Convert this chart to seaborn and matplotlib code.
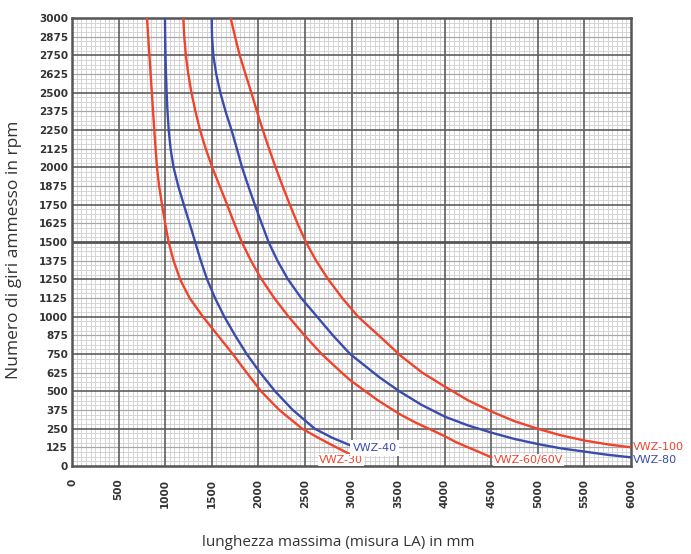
import numpy as np
import pandas as pd
import matplotlib
matplotlib.use("Agg")
import matplotlib.pyplot as plt
import seaborn as sns

# Maximum length (mm) vs permitted speed (rpm) for each shaft size
vwz30_len = [805, 818, 831, 844, 857, 870, 883, 897, 912, 935, 966, 1000, 1037, 1090,
             1160, 1262, 1405, 1565, 1725, 1875, 2030, 2225, 2470, 2640, 2790, 2980]
vwz30_rpm = [3000, 2875, 2750, 2625, 2500, 2375, 2250, 2125, 2000, 1875, 1750, 1625, 1500, 1375,
             1250, 1125, 1000, 875, 750, 625, 500, 375, 250, 190, 140, 80]

vwz40_len = [998, 1000, 1004, 1009, 1016, 1025, 1038, 1058, 1090, 1140, 1200, 1262, 1322, 1382,
             1450, 1535, 1635, 1750, 1875, 2020, 2180, 2370, 2605, 2790, 3000]
vwz40_rpm = [3000, 2875, 2750, 2625, 2500, 2375, 2250, 2125, 2000, 1875, 1750, 1625, 1500, 1375,
             1250, 1125, 1000, 875, 750, 625, 500, 375, 250, 190, 135]

vwz60_len = [1195, 1205, 1222, 1248, 1282, 1325, 1374, 1435, 1505, 1585, 1665, 1742, 1822, 1920,
             2035, 2170, 2325, 2495, 2680, 2895, 2983, 3150, 3290, 3520, 3690, 3830, 4000,
             4120, 4236, 4365, 4500]
vwz60_rpm = [3000, 2875, 2750, 2625, 2500, 2375, 2250, 2125, 2000, 1875, 1750, 1625, 1500, 1375,
             1250, 1125, 1000, 875, 750, 625, 576, 500, 437, 346, 290, 250, 200,
             160, 129, 95, 58]

vwz80_len = [1499, 1503, 1517, 1548, 1592, 1648, 1712, 1770, 1825, 1892, 1962, 2035, 2110, 2205,
             2318, 2460, 2630, 2800, 2985, 3237, 3306, 3520, 3750, 4003, 4250, 4504, 4750,
             5016, 5250, 5506, 5750, 6000]
vwz80_rpm = [3000, 2875, 2750, 2625, 2500, 2375, 2250, 2125, 2000, 1875, 1750, 1625, 1500, 1375,
             1250, 1125, 1000, 875, 750, 625, 591, 498, 410, 330, 272, 223, 181,
             145, 118, 96, 75, 58]

vwz100_len = [1703, 1750, 1800, 1862, 1925, 1985, 2048, 2115, 2185, 2260, 2338, 2420, 2510, 2620,
              2750, 2900, 3070, 3300, 3530, 3760, 4003, 4250, 4504, 4750, 5016, 5250, 5506,
              5750, 6000]
vwz100_rpm = [3000, 2875, 2750, 2625, 2500, 2375, 2250, 2125, 2000, 1875, 1750, 1625, 1500, 1375,
              1250, 1125, 1000, 870, 737, 625, 531, 440, 364, 300, 246, 205, 170,
              145, 125]

series_names = ["VWZ-30", "VWZ-40", "VWZ-60/60V", "VWZ-80", "VWZ-100"]
x_ticks = list(range(0, 6001, 500))
y_ticks = list(range(0, 3001, 125))

RED = "#f0432b"
BLUE = "#3a4cab"
palette = {"VWZ-30": RED, "VWZ-40": BLUE, "VWZ-60/60V": RED, "VWZ-80": BLUE, "VWZ-100": RED}

frames = []
for name, xs, ys in zip(series_names,
                        [vwz30_len, vwz40_len, vwz60_len, vwz80_len, vwz100_len],
                        [vwz30_rpm, vwz40_rpm, vwz60_rpm, vwz80_rpm, vwz100_rpm]):
    frames.append(pd.DataFrame({"length": xs, "rpm": ys, "series": name}))
df = pd.concat(frames, ignore_index=True)

sns.set_theme(style="white")
plt.rcParams["font.family"] = ["DejaVu Sans"]

fig = plt.figure(figsize=(6.91, 5.54), dpi=100)
ax = fig.add_axes([72 / 691, 88 / 554, 559 / 691, 448 / 554])

ax.set_xlim(0, 6000)
ax.set_ylim(0, 3000)

# graph-paper grid: fine lines, then 125 rpm lines, then the heavy 250 rpm / 500 mm lines
ax.set_xticks(x_ticks)
ax.set_yticks(y_ticks)
ax.set_xticks(np.arange(0, 6001, 50), minor=True)
ax.set_yticks(np.arange(0, 3001, 31.25), minor=True)
ax.grid(which="minor", color="#d4d4d4", linewidth=0.7, zorder=0.5)
ax.hlines(np.arange(125, 3000, 250), 0, 6000, color="#a8a8a8", linewidth=0.9, zorder=0.8)
ax.vlines(x_ticks[1:-1], 0, 3000, color="#5e5e5e", linewidth=1.2, zorder=1.0)
heavy = [v for v in range(250, 3000, 250) if v != 1500]
ax.hlines(heavy, 0, 6000, color="#5e5e5e", linewidth=1.2, zorder=1.0)
ax.hlines([1500], 0, 6000, color="#555555", linewidth=2.0, zorder=1.0)
ax.set_axisbelow(True)

sns.lineplot(data=df, x="length", y="rpm", hue="series", palette=palette,
             sort=False, estimator=None, legend=False, linewidth=1.7, ax=ax, zorder=3)

for s in ax.spines.values():
    s.set_color("#555555")
    s.set_linewidth(1.8)

ax.tick_params(axis="both", which="both", length=0, pad=3, colors="#333333")
ax.set_yticklabels([str(v) for v in y_ticks], fontsize=7.5, fontweight="bold")
ax.set_xticklabels([str(v) for v in x_ticks], fontsize=7.5, fontweight="bold",
                   rotation=90, va="top")
ax.tick_params(axis="x", pad=9)
ax.set_xlabel("")
ax.set_ylabel("")

# curve labels
box = dict(facecolor="white", edgecolor="none", pad=0.5)
ax.text(2650, 40, "VWZ-30", color=RED, fontsize=8, va="center", ha="left", bbox=box, zorder=4)
ax.text(3010, 120, "VWZ-40", color=BLUE, fontsize=8, va="center", ha="left",
        bbox=dict(facecolor="white", edgecolor="none", pad=2), zorder=4)
ax.text(4530, 40, "VWZ-60/60V", color=RED, fontsize=8, va="center", ha="left", bbox=box, zorder=4)
ax.text(6020, 127, "VWZ-100", color=RED, fontsize=8, va="center", ha="left", clip_on=False, zorder=4)
ax.text(6020, 37, "VWZ-80", color=BLUE, fontsize=8, va="center", ha="left", clip_on=False, zorder=4)

fig.text(14 / 691, 1 - 250 / 554, "Numero di giri ammesso in rpm", rotation=90,
         ha="center", va="center", fontsize=12.5, color="#333333", family=["Open Sans", "DejaVu Sans"])
fig.text(338 / 691, 1 - 543 / 554, "lunghezza massima (misura LA) in mm",
         ha="center", va="center", fontsize=11, color="#333333", family=["Open Sans", "DejaVu Sans"])

fig.savefig("out.png", dpi=100, facecolor="white")
